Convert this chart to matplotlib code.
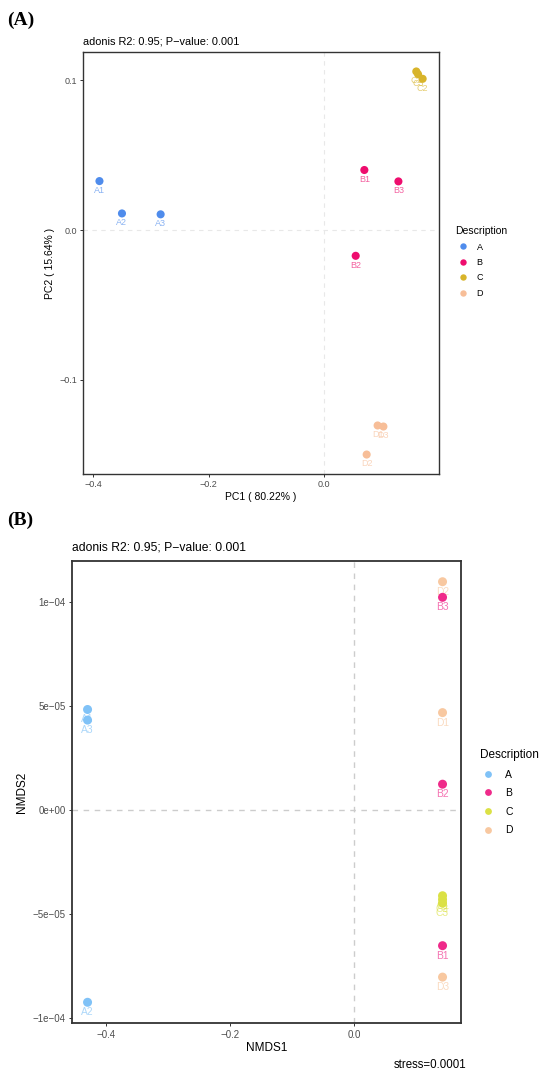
import matplotlib.pyplot as plt
from matplotlib.lines import Line2D

plt.rcParams['font.family'] = ['Liberation Sans', 'DejaVu Sans']

# ---- panel A: PCoA ----
pcoa_labels = ["A1", "A2", "A3", "B1", "B2", "B3", "C1", "C2", "C3", "D1", "D2", "D3"]
pcoa_groups = ["A", "A", "A", "B", "B", "B", "C", "C", "C", "D", "D", "D"]
pc1 = [-0.389, -0.350, -0.283, 0.070, 0.055, 0.129, 0.160, 0.171, 0.163, 0.093, 0.074, 0.103]
pc2 = [0.0327, 0.0111, 0.0105, 0.0401, -0.0172, 0.0325, 0.1059, 0.1010, 0.1041, -0.1305, -0.1499, -0.1312]
pcoa_colors = {"A": "#4F8CEC", "B": "#EE0D6E", "C": "#D8B42A", "D": "#F7BE98"}

# ---- panel B: NMDS ----
nmds_labels = ["A1", "A2", "A3", "B1", "B2", "B3", "C1", "C2", "C3", "D1", "D2", "D3"]
nmds_groups = ["A", "A", "A", "B", "B", "B", "C", "C", "C", "D", "D", "D"]
nmds1 = [-0.429, -0.429, -0.429, 0.142, 0.142, 0.142, 0.142, 0.142, 0.142, 0.142, 0.142, 0.142]
nmds2 = [4.83e-05, -9.24e-05, 4.32e-05, -6.52e-05, 1.24e-05, 1.022e-04,
         -4.12e-05, -4.30e-05, -4.48e-05, 4.68e-05, 1.097e-04, -8.03e-05]
nmds_colors = {"A": "#80C2F7", "B": "#EF2A8A", "C": "#DBE145", "D": "#F8C8A0"}

title_text = "adonis R2: 0.95; P\u2212value: 0.001"

W, H = 550, 1083
fig = plt.figure(figsize=(W / 100, H / 100), dpi=100)


def px(x, y):
    return x / W, 1 - y / H


def style_axes(ax, lw, tsize, dash_color, dash_lw):
    for s in ax.spines.values():
        s.set_color("#333333")
        s.set_linewidth(lw)
    ax.tick_params(length=2.5, width=0.7, color="#333333", labelcolor="#4D4D4D",
                   labelsize=tsize, pad=2)
    ax.axhline(0, color=dash_color, ls=(0, (4, 4)), lw=dash_lw, zorder=0)
    ax.axvline(0, color=dash_color, ls=(0, (4, 4)), lw=dash_lw, zorder=0)


def draw_points(ax, xs, ys, labs, grps, colors, size, fsize, off):
    for x, y, lab, g in zip(xs, ys, labs, grps):
        ax.annotate(lab, (x, y), xytext=(0, -off), textcoords="offset points",
                    ha="center", va="center", fontsize=fsize, color=colors[g],
                    alpha=0.65, zorder=2)
    ax.scatter(xs, ys, s=size, c=[colors[g] for g in grps], linewidths=0, zorder=3)


def add_legend(colors, x, y, fsize, tsize, spacing, msize, hlen, hpad):
    handles = [Line2D([], [], ls="", marker="o", markersize=msize, color=colors[k],
                      markeredgewidth=0) for k in colors]
    fig.legend(handles, list(colors.keys()), title="Description", loc="upper left",
               bbox_to_anchor=px(x, y), frameon=False, fontsize=fsize,
               title_fontsize=tsize, labelspacing=spacing, handletextpad=hpad,
               handlelength=hlen, alignment="left", borderaxespad=0, borderpad=0)


# panel A
axA = fig.add_axes([83.3 / W, 1 - 473.7 / H, 355.5 / W, 421.4 / H])
style_axes(axA, 1.0, 6.5, "#E8E8E8", 0.8)
draw_points(axA, pc1, pc2, pcoa_labels, pcoa_groups, pcoa_colors, 34, 6.5, 6.8)
axA.set_xlim(-0.417, 0.199)
axA.set_ylim(-0.1627, 0.1187)
axA.set_xticks([-0.4, -0.2, 0.0], ["\u22120.4", "\u22120.2", "0.0"])
axA.set_yticks([-0.1, 0.0, 0.1], ["\u22120.1", "0.0", "0.1"])
axA.set_xlabel("PC1 ( 80.22% )", fontsize=7.5, labelpad=2)
axA.set_ylabel("PC2 ( 15.64% )", fontsize=7.5, labelpad=3)
fig.text(*px(83.3, 42), title_text, fontsize=7.9, va="center", ha="left")
fig.text(*px(7, 20), "(A)", fontsize=14, fontweight="bold", va="center", ha="left",
         family=["Liberation Serif", "DejaVu Serif"])
add_legend(pcoa_colors, 455, 226, 6.5, 7.5, 0.72, 4.6, 1.7, 0.7)

# panel B
axB = fig.add_axes([71.7 / W, 1 - 1023.3 / H, 389.3 / W, 462.6 / H])
style_axes(axB, 1.3, 7.0, "#CCCCCC", 1.0)
draw_points(axB, nmds1, nmds2, nmds_labels, nmds_groups, nmds_colors, 42, 7.4, 7.2)
axB.set_xlim(-0.4545, 0.1717)
axB.set_ylim(-1.025e-04, 1.198e-04)
axB.set_xticks([-0.4, -0.2, 0.0], ["\u22120.4", "\u22120.2", "0.0"])
axB.set_yticks([-1e-04, -5e-05, 0, 5e-05, 1e-04],
               ["\u22121e\u221204", "\u22125e\u221205", "0e+00", "5e\u221205", "1e\u221204"])
axB.set_xlabel("NMDS1", fontsize=8.5, labelpad=2)
axB.set_ylabel("NMDS2", fontsize=8.5, labelpad=3)
fig.text(*px(71.7, 547), title_text, fontsize=8.7, va="center", ha="left")
fig.text(*px(7, 520), "(B)", fontsize=14, fontweight="bold", va="center", ha="left",
         family=["Liberation Serif", "DejaVu Serif"])
fig.text(*px(466, 1065), "stress=0.0001", fontsize=8.3, va="center", ha="right")
add_legend(nmds_colors, 480, 749, 7.5, 8.5, 0.82, 4.9, 1.55, 0.85)

fig.savefig("out.png", dpi=100)
